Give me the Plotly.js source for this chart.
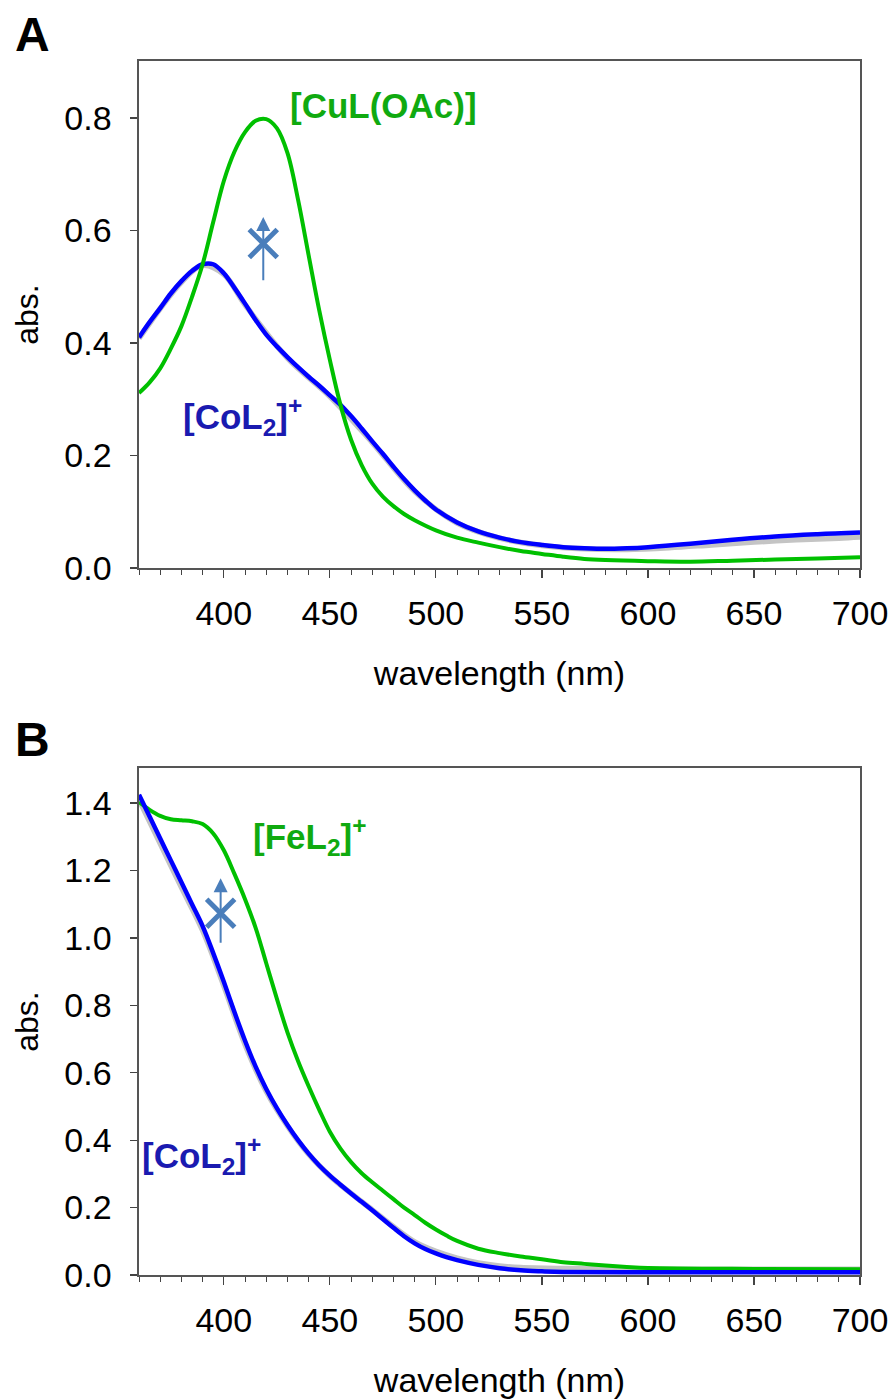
<!DOCTYPE html>
<html>
<head>
<meta charset="utf-8">
<script src="https://cdn.plot.ly/plotly-3.0.1.min.js"></script>
<style>
html,body{margin:0;padding:0;background:#fff;}
#chart{width:896px;height:1399px;}
</style>
</head>
<body>
<div id="chart"></div>
<script>
// ---------- Panel A ----------
const wlCuA = [360,365,370,375,380,385,390,395,400,405,410,415,420,425,430,435,440,445,450,455,460,465,470,475,480,485,490,500,510,520,530,540,550,560,570,580,600,620,640,660,680,700];
const absCuA = [0.311,0.330,0.355,0.390,0.430,0.482,0.540,0.615,0.688,0.740,0.775,0.795,0.798,0.782,0.738,0.655,0.556,0.458,0.370,0.290,0.228,0.183,0.150,0.127,0.110,0.096,0.085,0.067,0.054,0.045,0.037,0.030,0.025,0.020,0.016,0.014,0.012,0.011,0.013,0.015,0.017,0.019];

const wlCoA = [360,365,370,375,380,385,390,395,400,405,410,415,420,425,430,435,440,445,450,455,460,465,470,475,480,485,490,495,500,510,520,530,540,550,560,570,580,590,600,620,640,660,680,700];
const absCoA = [0.410,0.437,0.462,0.488,0.510,0.528,0.540,0.540,0.524,0.498,0.470,0.441,0.415,0.394,0.375,0.357,0.340,0.324,0.307,0.290,0.270,0.248,0.225,0.203,0.180,0.158,0.138,0.120,0.104,0.081,0.065,0.054,0.046,0.041,0.037,0.035,0.034,0.035,0.037,0.043,0.050,0.056,0.060,0.063];

const wlGrayA = [360,380,390,400,410,430,450,470,490,510,530,550,570,590,610,630,650,670,690,700];
const absGrayA = [0.408,0.508,0.538,0.522,0.468,0.373,0.305,0.223,0.136,0.080,0.053,0.040,0.034,0.033,0.036,0.041,0.046,0.050,0.053,0.055];

// ---------- Panel B ----------
const wlFeB = [360,365,370,375,380,385,390,395,400,405,410,415,420,425,430,435,440,445,450,455,460,465,470,475,480,485,490,495,500,505,510,520,530,540,550,560,570,580,590,600,650,700];
const absFeB = [1.403,1.380,1.362,1.352,1.349,1.346,1.338,1.310,1.260,1.190,1.115,1.030,0.925,0.820,0.720,0.635,0.560,0.490,0.425,0.375,0.335,0.302,0.275,0.250,0.225,0.200,0.178,0.155,0.135,0.117,0.101,0.078,0.065,0.055,0.047,0.038,0.033,0.028,0.024,0.021,0.018,0.017];

const wlCoB = [360,365,370,375,380,385,390,395,400,405,410,415,420,425,430,435,440,445,450,455,460,465,470,475,480,485,490,495,500,505,510,520,530,540,550,560,600,650,700];
const absCoB = [1.425,1.360,1.295,1.230,1.165,1.100,1.035,0.955,0.870,0.780,0.695,0.618,0.552,0.495,0.445,0.400,0.360,0.325,0.295,0.268,0.242,0.217,0.192,0.166,0.140,0.115,0.094,0.077,0.064,0.053,0.044,0.030,0.020,0.014,0.011,0.009,0.008,0.008,0.008];

const wlGrayB = [360,370,380,390,400,410,420,430,440,450,460,470,480,490,500,510,520,530,540,560,600,650,700];
const absGrayB = [1.410,1.280,1.150,1.022,0.858,0.684,0.545,0.442,0.358,0.294,0.242,0.193,0.143,0.098,0.070,0.050,0.036,0.027,0.022,0.019,0.017,0.017,0.017];

// Marker (arrow + cross) positions
const markA = {wl: 418.6, center: 0.577, tail: 0.509, tip: 0.624};
const markB = {wl: 398.5, center: 1.073, tail: 0.981, tip: 1.177};

const FONT = 'Liberation Sans, Arial, sans-serif';
const GREEN = '#00c000';
const BLUE = '#0000ff';
const GRAY = '#c4c4c4';
const GREEN_TXT = '#10aa10';
const BLUE_TXT = '#1a1ab0';
const MARK = '#4a7ebb';

function line(x, y, color, width, xa, ya) {
  return {x: x, y: y, type: 'scatter', mode: 'lines', xaxis: xa, yaxis: ya,
          line: {color: color, width: width, shape: 'spline', smoothing: 1},
          hoverinfo: 'skip', showlegend: false};
}
function cross(m, xa, ya) {
  return {x: [m.wl], y: [m.center], type: 'scatter', mode: 'markers', xaxis: xa, yaxis: ya,
          marker: {symbol: 'x-thin', size: 28, line: {width: 5, color: MARK}},
          hoverinfo: 'skip', showlegend: false};
}

const data = [
  line(wlGrayA, absGrayA, GRAY, 5.5, 'x', 'y'),
  line(wlCoA, absCoA, BLUE, 4.5, 'x', 'y'),
  line(wlCuA, absCuA, GREEN, 4, 'x', 'y'),
  cross(markA, 'x', 'y'),
  line(wlGrayB, absGrayB, GRAY, 5.5, 'x2', 'y2'),
  line(wlFeB, absFeB, GREEN, 4, 'x2', 'y2'),
  line(wlCoB, absCoB, BLUE, 4.5, 'x2', 'y2'),
  cross(markB, 'x2', 'y2')
];

function xaxisDef(anchor) {
  return {
    anchor: anchor, domain: [0, 1], range: [360, 700],
    tick0: 400, dtick: 50, ticks: 'outside', ticklen: 8, tickwidth: 1.2, tickcolor: '#444',
    minor: {dtick: 10, tick0: 400, ticks: 'outside', ticklen: 5, tickwidth: 1, tickcolor: '#444'},
    showline: true, mirror: true, linecolor: '#555', linewidth: 1.6,
    showgrid: false, zeroline: false,
    tickfont: {family: FONT, size: 34, color: '#000'},
    ticklabelstandoff: 7,
    title: {text: 'wavelength (nm)', font: {family: FONT, size: 34, color: '#000'}, standoff: 30}
  };
}
function yaxisDef(anchor, domain, range) {
  return {
    anchor: anchor, domain: domain, range: range,
    tick0: 0, dtick: 0.2, tickformat: '.1f', ticks: 'outside', ticklen: 7, tickwidth: 1.2, tickcolor: '#444',
    showline: true, mirror: true, linecolor: '#555', linewidth: 1.6,
    showgrid: false, zeroline: false,
    tickfont: {family: FONT, size: 34, color: '#000'},
    ticklabelstandoff: 12,
    title: {text: 'abs.', font: {family: FONT, size: 32, color: '#000'}, standoff: 16}
  };
}

function arrow(m, xa, ya) {
  return {x: m.wl, y: m.tip, ax: m.wl, ay: m.tail, xref: xa, yref: ya, axref: xa, ayref: ya,
          showarrow: true, arrowhead: 2, arrowsize: 1.4, arrowwidth: 2, arrowcolor: MARK, text: ''};
}

const layout = {
  width: 896, height: 1399,
  margin: {l: 139, r: 36, t: 61, b: 124},
  paper_bgcolor: '#fff', plot_bgcolor: '#fff',
  font: {family: FONT},
  xaxis: xaxisDef('y'),
  yaxis: yaxisDef('x', [0.5824, 1], [0, 0.9014]),
  xaxis2: xaxisDef('y2'),
  yaxis2: yaxisDef('x2', [0, 0.4176], [0, 1.504]),
  annotations: [
    {text: '<b>A</b>', xref: 'paper', yref: 'paper', x: -0.175, y: 1.0222, xanchor: 'left', yanchor: 'middle',
     showarrow: false, font: {family: FONT, size: 48, color: '#000'}},
    {text: '<b>B</b>', xref: 'paper', yref: 'paper', x: -0.175, y: 0.4415, xanchor: 'left', yanchor: 'middle',
     showarrow: false, font: {family: FONT, size: 48, color: '#000'}},
    {text: '<b>[CuL(OAc)]</b>', xref: 'x', yref: 'y', x: 475.5, y: 0.823, xanchor: 'center', yanchor: 'middle',
     showarrow: false, font: {family: FONT, size: 35, color: GREEN_TXT}},
    {text: '<b>[CoL<sub>2</sub>]<sup>+</sup></b>', xref: 'x', yref: 'y', x: 380.0, y: 0.27, xanchor: 'left', yanchor: 'middle',
     showarrow: false, font: {family: FONT, size: 35, color: BLUE_TXT}},
    {text: '<b>[FeL<sub>2</sub>]<sup>+</sup></b>', xref: 'x2', yref: 'y2', x: 412.8, y: 1.30, xanchor: 'left', yanchor: 'middle',
     showarrow: false, font: {family: FONT, size: 35, color: GREEN_TXT}},
    {text: '<b>[CoL<sub>2</sub>]<sup>+</sup></b>', xref: 'x2', yref: 'y2', x: 360.3, y: 0.355, xanchor: 'left', yanchor: 'middle',
     showarrow: false, font: {family: FONT, size: 35, color: BLUE_TXT}},
    arrow(markA, 'x', 'y'),
    arrow(markB, 'x2', 'y2')
  ]
};

Plotly.newPlot('chart', data, layout, {staticPlot: true, displayModeBar: false});
</script>
</body>
</html>
